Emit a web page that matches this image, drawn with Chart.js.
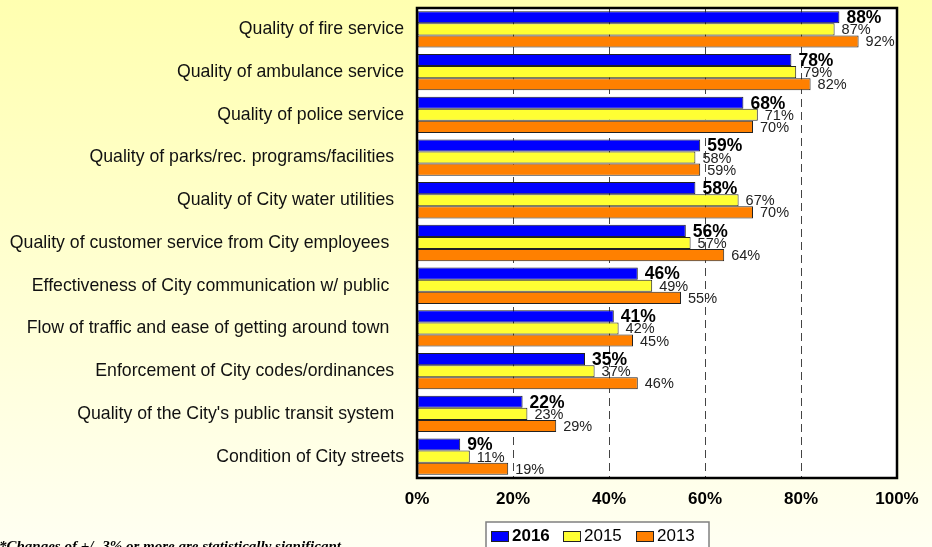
<!DOCTYPE html>
<html>
<head>
<meta charset="utf-8">
<script src="https://cdn.jsdelivr.net/npm/chart.js"></script>
<style>
  html, body { margin: 0; padding: 0; background: #fffff0; }
  #wrap { width: 932px; height: 547px; }
</style>
</head>
<body>
<div id="wrap"><canvas id="ratingChart" width="932" height="547"></canvas></div>
<script>
var categories = [
    'Quality of fire service',
    'Quality of ambulance service',
    'Quality of police service',
    'Quality of parks/rec. programs/facilities  ',
    'Quality of City water utilities  ',
    'Quality of customer service from City employees   ',
    'Effectiveness of City communication w/ public   ',
    'Flow of traffic and ease of getting around town   ',
    'Enforcement of City codes/ordinances  ',
    "Quality of the City's public transit system  ",
    'Condition of City streets'
];
var years = ['2016', '2015', '2013'];
var values2016 = [88, 78, 68, 59, 58, 56, 46, 41, 35, 22, 9];
var values2015 = [87, 79, 71, 58, 67, 57, 49, 42, 37, 23, 11];
var values2013 = [92, 82, 70, 59, 70, 64, 55, 45, 46, 29, 19];
var xTicks = [0, 20, 40, 60, 80, 100];

var barColors = ['#0000ff', '#ffff33', '#ff8000'];
var fontFamily = 'Arial, "Liberation Sans", sans-serif';

var decorPlugin = {
    id: 'decor',
    beforeDraw: function(chart) {
        var ctx = chart.ctx;
        var g = ctx.createLinearGradient(0, 0, 0, chart.height);
        g.addColorStop(0, '#ffffb0');
        g.addColorStop(1, '#fffff2');
        ctx.save();
        ctx.fillStyle = g;
        ctx.fillRect(0, 0, chart.width, chart.height);
        var a = chart.chartArea;
        ctx.fillStyle = '#ffffff';
        ctx.fillRect(a.left, a.top, a.right - a.left, a.bottom - a.top);
        ctx.restore();
    },
    afterDatasetsDraw: function(chart) {
        var ctx = chart.ctx;
        ctx.save();
        ctx.textBaseline = 'middle';
        ctx.textAlign = 'left';
        chart.data.datasets.forEach(function(ds, di) {
            var meta = chart.getDatasetMeta(di);
            meta.data.forEach(function(bar, i) {
                if (di === 0) {
                    ctx.font = 'bold 17.5px ' + fontFamily;
                    ctx.fillStyle = '#000';
                } else {
                    ctx.font = '14.5px ' + fontFamily;
                    ctx.fillStyle = '#222';
                }
                ctx.fillText(ds.data[i] + '%', bar.x + 7, bar.y + 1);
            });
        });
        // plot frame
        var a = chart.chartArea;
        ctx.strokeStyle = '#000';
        ctx.lineWidth = 2.5;
        ctx.strokeRect(a.left, a.top, a.right - a.left, a.bottom - a.top);
        ctx.restore();
    },
    afterDraw: function(chart) {
        var ctx = chart.ctx;
        ctx.save();
        // legend box
        ctx.fillStyle = '#ffffff';
        ctx.fillRect(486, 522, 223, 30);
        ctx.strokeStyle = '#808080';
        ctx.lineWidth = 1.5;
        ctx.strokeRect(486, 522, 223, 30);
        var xs = [491, 563, 636];
        ctx.textBaseline = 'middle';
        chart.data.datasets.forEach(function(ds, di) {
            ctx.fillStyle = ds.backgroundColor;
            ctx.fillRect(xs[di], 531, 17, 10);
            ctx.strokeStyle = '#222';
            ctx.lineWidth = 1;
            ctx.strokeRect(xs[di] + 0.5, 531.5, 17, 10);
            ctx.fillStyle = '#000';
            ctx.font = (di === 0 ? 'bold ' : '') + '17px ' + fontFamily;
            ctx.fillText(ds.label, xs[di] + 21, 536);
        });
        // footnote
        ctx.font = 'bold italic 15px "Liberation Serif", "Times New Roman", serif';
        ctx.fillStyle = '#000';
        ctx.textBaseline = 'alphabetic';
        ctx.fillText('*Changes of +/- 3% or more are statistically significant', -1, 551);
        ctx.restore();
    }
};

var ctx = document.getElementById('ratingChart').getContext('2d');
var ratingChart = new Chart(ctx, {
    type: 'bar',
    data: {
        labels: categories,
        datasets: [
            { label: years[0], data: values2016, backgroundColor: barColors[0] },
            { label: years[1], data: values2015, backgroundColor: barColors[1] },
            { label: years[2], data: values2013, backgroundColor: barColors[2] }
        ]
    },
    options: {
        indexAxis: 'y',
        responsive: false,
        animation: false,
        devicePixelRatio: 1,
        layout: { padding: { top: 8, right: 35, bottom: 0, left: 0 } },
        datasets: {
            bar: {
                categoryPercentage: 0.85,
                barPercentage: 1.0,
                borderWidth: 1,
                borderColor: '#222',
                borderSkipped: false
            }
        },
        plugins: {
            legend: { display: false },
            tooltip: { enabled: false }
        },
        scales: {
            x: {
                min: 0,
                max: 100,
                afterBuildTicks: function(scale) {
                    scale.ticks = xTicks.map(function(v) { return { value: v }; });
                },
                afterFit: function(scale) {
                    scale.height = 69;
                    scale.paddingLeft = 0;
                    scale.paddingRight = 0;
                },
                grid: {
                    drawTicks: false,
                    lineWidth: 1,
                    color: function(c) {
                        var v = c.tick ? c.tick.value : 0;
                        return (v === 0 || v === 100) ? 'rgba(0,0,0,0)' : '#444';
                    }
                },
                border: { display: false, dash: [8, 5] },
                ticks: {
                    padding: 11,
                    color: '#000',
                    font: { family: fontFamily, size: 17, weight: 'bold' },
                    callback: function(v) { return v + '%'; }
                }
            },
            y: {
                afterFit: function(scale) {
                    scale.width = 417;
                    scale.paddingTop = 0;
                    scale.paddingBottom = 0;
                },
                grid: { display: false, drawTicks: false },
                border: { display: false },
                ticks: {
                    padding: 13,
                    color: '#111',
                    font: { family: fontFamily, size: 17.7 }
                }
            }
        }
    },
    plugins: [decorPlugin]
});
</script>
</body>
</html>
